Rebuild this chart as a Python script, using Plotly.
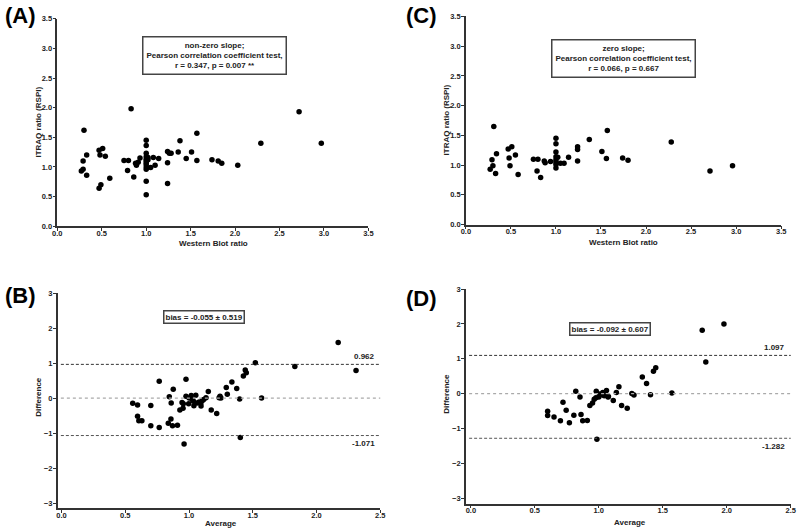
import plotly.graph_objects as go

W, H = 800, 532

# ---------- data ----------
# Panel A: Western blot ratio vs iTRAQ ratio (all proteins)
a_wb = [0.27, 0.29, 0.29, 0.30, 0.33, 0.33, 0.47, 0.48, 0.51, 0.54, 0.49, 0.47, 0.59,
        0.75, 0.80, 0.79, 0.83, 0.86, 0.88, 0.89, 0.91, 0.93,
        1.00, 1.00, 1.00, 1.00, 1.00, 1.00, 1.00, 1.00, 1.00, 1.00, 1.00, 1.00,
        1.02, 1.02, 1.05, 1.08, 1.10, 1.14, 1.24, 1.26, 1.28, 1.24, 1.24, 1.36, 1.38,
        1.45, 1.51, 1.57, 1.57, 1.74, 1.81, 1.85, 2.03, 2.29, 2.72, 2.97]
a_itraq = [0.93, 0.96, 1.10, 1.62, 1.20, 0.86, 1.28, 1.20, 1.31, 1.18, 0.70, 0.64, 0.81,
           1.11, 1.11, 0.94, 1.98, 0.83, 1.06, 1.03, 1.08, 1.15,
           1.45, 1.36, 1.23, 1.17, 1.13, 1.10, 1.07, 1.04, 1.00, 0.96, 0.76, 0.53,
           1.16, 1.12, 0.99, 1.16, 1.03, 1.14, 1.26, 1.23, 1.23, 1.07, 0.72, 1.25, 1.44,
           1.14, 1.25, 1.57, 1.11, 1.12, 1.10, 1.06, 1.03, 1.40, 1.93, 1.40]

# Panel C: Western blot ratio vs iTRAQ ratio (subset)
c_wb = [0.31, 0.34, 0.29, 0.30, 0.27, 0.33, 0.47, 0.51, 0.48, 0.49, 0.55, 0.58,
        0.75, 0.80, 0.79, 0.83, 0.87, 0.88, 0.94,
        1.00, 1.00, 1.00, 1.00, 1.02, 1.00, 1.00, 1.00, 1.00,
        1.05, 1.09, 1.14, 1.24, 1.24, 1.24, 1.37, 1.51, 1.57, 1.56, 1.74, 1.80,
        2.28, 2.71, 2.96]
c_itraq = [1.65, 1.19, 1.09, 0.99, 0.93, 0.86, 1.27, 1.31, 1.12, 0.99, 1.17, 0.84,
           1.10, 1.10, 0.90, 0.79, 1.07, 1.04, 1.06,
           1.45, 1.36, 1.22, 1.14, 1.13, 1.09, 1.05, 1.01, 0.95,
           1.03, 1.03, 1.13, 1.31, 1.26, 1.07, 1.43, 1.23, 1.58, 1.11, 1.12, 1.08,
           1.39, 0.90, 0.99]

# Panel B: Bland-Altman (average, difference)
b_avg = [0.558, 0.596, 0.596, 0.606, 0.63, 0.70, 0.70, 0.766, 0.766, 0.837, 0.845, 0.86,
         0.858, 0.87, 0.876, 0.909, 0.928, 0.945, 0.953, 0.955, 0.976, 0.976, 0.961,
         0.997, 1.0, 1.017, 1.025, 1.035, 1.038, 1.053, 1.063, 1.079, 1.092, 1.105,
         1.094, 1.115, 1.133, 1.151, 1.174, 1.217, 1.236, 1.243, 1.25, 1.292, 1.30,
         1.336, 1.374, 1.397, 1.402, 1.426, 1.441, 1.449, 1.52, 1.569, 1.83, 2.17, 2.31]
b_diff = [-0.15, -0.20, -0.52, -0.65, -0.65, -0.21, -0.79, 0.48, -0.84, -0.72, 0.04, -0.14,
          -0.60, -0.79, 0.25, -0.78, -0.34, -0.13, -0.29, -0.16, 0.54, 0.05, -1.31,
          -0.16, 0.0, 0.07, -0.05, -0.09, -0.22, 0.08, -0.14, -0.11, -0.15, -0.07,
          -0.23, -0.04, 0.01, 0.19, -0.34, -0.44, 0.01, 0.05, 0.0, 0.30, 0.11,
          0.46, 0.27, -0.03, -1.13, 0.63, 0.80, 0.72, 1.01, 0.0, 0.90, 1.59, 0.79]
b_bias, b_sd, b_upper, b_lower = -0.055, 0.519, 0.962, -1.071

# Panel D: Bland-Altman (average, difference)
d_avg = [0.60, 0.60, 0.65, 0.70, 0.72, 0.745, 0.77, 0.805, 0.82, 0.853, 0.861, 0.874,
         0.91, 0.93, 0.951, 0.964, 0.977, 0.98, 0.985, 1.0, 1.005, 1.021, 1.031, 1.042,
         1.06, 1.072, 1.075, 1.113, 1.137, 1.157, 1.178, 1.222, 1.258, 1.275, 1.34,
         1.373, 1.404, 1.427, 1.445, 1.571, 1.808, 1.836, 1.978]
d_diff = [-0.51, -0.63, -0.67, -0.78, -0.25, -0.48, -0.84, -0.62, 0.065, -0.10, -0.60, -0.78,
          -0.77, -0.34, -0.27, -0.16, -0.12, 0.065, -1.31, -0.10, -0.01, -0.03, 0.03, -0.06,
          0.09, -0.10, -0.08, -0.20, 0.03, 0.20, -0.34, -0.42, 0.0, -0.04, 0.48,
          0.29, -0.03, 0.64, 0.74, 0.02, 1.82, 0.91, 2.00]
d_bias, d_sd, d_upper, d_lower = -0.092, 0.607, 1.097, -1.282

# ---------- helpers ----------
def fx(px):
    return px / W

def fy(py):
    return 1 - py / H

AX = "#333333"
FONT = "Liberation Sans"
tickf = dict(family=FONT, size=7.5, color="#222", weight="bold")

def axis_common(standoff):
    return dict(showgrid=False, zeroline=False, showline=True, linecolor=AX, linewidth=1.5,
                ticks="outside", ticklen=3, tickwidth=1.2, tickcolor=AX, tickfont=tickf,
                mirror=False, fixedrange=True, ticklabelstandoff=standoff)

def xax(**kw):
    return dict(axis_common(-4), **kw)

def yax(**kw):
    return dict(axis_common(-1), **kw)

fig = go.Figure()

marker = dict(color="black", size=5.5, line=dict(width=0))
fig.add_trace(go.Scatter(x=a_wb, y=a_itraq, mode="markers", marker=marker, xaxis="x", yaxis="y", showlegend=False))
fig.add_trace(go.Scatter(x=b_avg, y=b_diff, mode="markers", marker=marker, xaxis="x2", yaxis="y2", showlegend=False))
fig.add_trace(go.Scatter(x=c_wb, y=c_itraq, mode="markers", marker=marker, xaxis="x3", yaxis="y3", showlegend=False))
fig.add_trace(go.Scatter(x=d_avg, y=d_diff, mode="markers", marker=marker, xaxis="x4", yaxis="y4", showlegend=False))

ticks_r = [0, 0.5, 1, 1.5, 2, 2.5, 3, 3.5]
ticks_avg = [0, 0.5, 1, 1.5, 2, 2.5]
ticks_diff = [-3, -2, -1, 0, 1, 2, 3]

layout = dict(
    width=W, height=H, margin=dict(l=0, r=0, t=0, b=0),
    paper_bgcolor="white", plot_bgcolor="white",
    font=dict(family=FONT, color="#222"),
)
# Panel A
layout["xaxis"] = xax(domain=[fx(53), fx(368)], range=[0, 3.5], tickvals=ticks_r, tickformat=".1f", anchor="y")
layout["yaxis"] = yax(domain=[fy(226), fy(15)], range=[0, 3.5], tickvals=ticks_r, tickformat=".1f", anchor="x")
# Panel B
layout["xaxis2"] = xax(domain=[fx(53.3), fx(380)], range=[-0.031, 2.5], tickvals=ticks_avg, tickformat=".1f", anchor="y2")
layout["yaxis2"] = yax(domain=[fy(513), fy(294)], range=[-3.15, 3], tickvals=ticks_diff, tickformat="d", anchor="x2")
# Panel C
layout["xaxis3"] = xax(domain=[fx(466.7), fx(786)], range=[0, 3.5], tickvals=ticks_r, tickformat=".1f", anchor="y3")
layout["yaxis3"] = yax(domain=[fy(224.3), fy(12.7)], range=[0, 3.5], tickvals=ticks_r, tickformat=".1f", anchor="x3")
# Panel D
layout["xaxis4"] = xax(domain=[fx(466.7), fx(795.7)], range=[-0.039, 2.5], tickvals=ticks_avg, tickformat=".1f", anchor="y4")
layout["yaxis4"] = yax(domain=[fy(508.3), fy(290)], range=[-3.16, 3], tickvals=ticks_diff, tickformat="d", anchor="x4")
fig.update_layout(**layout)

# Bias / limit lines
for xa, ya, up, lo in [("x2", "y2", b_upper, b_lower), ("x4", "y4", d_upper, d_lower)]:
    fig.add_shape(type="line", xref=f"{xa} domain", yref=ya, x0=0.01, x1=1, y0=0, y1=0,
                  line=dict(color="#aaaaaa", width=1.2, dash="dot"))
    fig.add_shape(type="line", xref=f"{xa} domain", yref=ya, x0=0.01, x1=1, y0=up, y1=up,
                  line=dict(color="#333333", width=1, dash="3px,2px"))
    fig.add_shape(type="line", xref=f"{xa} domain", yref=ya, x0=0.01, x1=1, y0=lo, y1=lo,
                  line=dict(color="#555555", width=1, dash="3px,2px"))

ann = []
def text(x, y, t, size=8, xanchor="center", yanchor="middle", **kw):
    ann.append(dict(x=fx(x), y=fy(y), xref="paper", yref="paper", text=t, showarrow=False,
                    xanchor=xanchor, yanchor=yanchor,
                    font=dict(family=FONT, size=size, color="#222", weight="bold"), **kw))

# Panel labels
for lbl, x, y in [("(A)", 16, 12), ("(B)", 16, 297), ("(C)", 422, 12), ("(D)", 422, 300)]:
    ann.append(dict(x=fx(x), y=fy(y), xref="paper", yref="paper", text=lbl, showarrow=False,
                    xanchor="center", yanchor="middle",
                    font=dict(family=FONT, size=22, color="black", weight="bold")))

# Axis titles
text(211, 244, "Western Blot ratio")
text(626, 243, "Western Blot ratio")
text(219, 528, "Average")
text(633, 527, "Average")
text(34, 120, "ITRAQ ratio (RSPI)", textangle=-90)
text(447, 118, "ITRAQ ratio (RSPI)", textangle=-90)
text(34, 400, "Difference", textangle=-90)
text(447, 396, "Difference", textangle=-90)

# Boxed statistics
box = dict(bordercolor="#444", borderwidth=1.5, bgcolor="white", borderpad=3)
text(211.7, 52, "non-zero slope;<br>Pearson correlation coefficient test,<br>r = 0.347, p = 0.007 **", size=8, **box)
text(626, 55.5, "zero slope;<br>Pearson correlation coefficient test,<br>r = 0.066, p = 0.667", size=8, **box)
sbox = dict(bordercolor="#444", borderwidth=1.5, bgcolor="white", borderpad=1)
text(201.7, 318, f"bias = {b_bias:.3f} ± {b_sd:.3f}", size=8, **sbox)
text(613, 331, f"bias = {d_bias:.3f} ± {d_sd:.3f}", size=8, **sbox)

# Limit values
text(377, 359, f"{b_upper:.3f}", size=8, xanchor="right")
text(377, 447.5, f"{b_lower:.3f}", size=8, xanchor="right")
text(792, 349.5, f"{d_upper:.3f}", size=8, xanchor="right")
text(792, 450, f"{d_lower:.3f}", size=8, xanchor="right")

fig.update_layout(annotations=ann)
fig.write_html("out.html", config={"displayModeBar": False},
               post_script="document.body.style.margin='0';document.body.style.overflow='hidden';")
